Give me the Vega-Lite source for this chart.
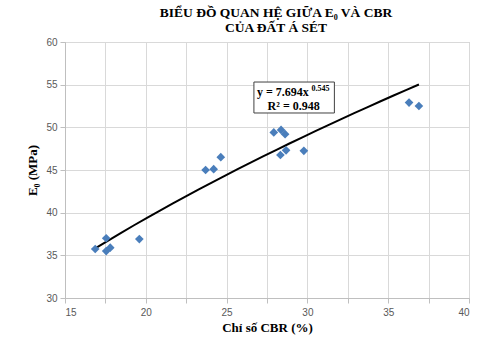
{
  "$schema": "https://vega.github.io/schema/vega-lite/v6.json",
  "width": 404,
  "height": 256,
  "autosize": {"type": "none"},
  "padding": {"left": 65, "top": 42, "right": 15, "bottom": 43},
  "background": "white",
  "title": {
    "text": ["BIỂU ĐỒ QUAN HỆ GIỮA E₀ VÀ CBR", "CỦA ĐẤT Á SÉT"],
    "font": "Liberation Serif",
    "fontSize": 13.5,
    "fontWeight": "bold",
    "color": "#000000",
    "anchor": "middle",
    "frame": "group",
    "lineHeight": 15,
    "offset": 3,
    "dx": 9
  },
  "config": {
    "view": {"stroke": "#bfbfbf", "strokeWidth": 1},
    "axis": {
      "labelFont": "Liberation Sans",
      "labelFontSize": 10,
      "labelColor": "#595959",
      "titleFont": "Liberation Serif",
      "titleFontSize": 13,
      "titleFontWeight": "bold",
      "titleColor": "#000000",
      "domainColor": "#bfbfbf",
      "tickColor": "#bfbfbf",
      "gridColor": "#d9d9d9",
      "tickSize": 5
    }
  },
  "datasets": {
    "samples": [
      {"CBR": 16.87, "E0": 35.74},
      {"CBR": 17.55, "E0": 37.0},
      {"CBR": 17.55, "E0": 35.5},
      {"CBR": 17.8, "E0": 35.9},
      {"CBR": 19.6, "E0": 36.9},
      {"CBR": 23.7, "E0": 45.0},
      {"CBR": 24.2, "E0": 45.1},
      {"CBR": 24.64, "E0": 46.5},
      {"CBR": 27.92, "E0": 49.4},
      {"CBR": 28.37, "E0": 49.7},
      {"CBR": 28.62, "E0": 49.2},
      {"CBR": 28.33, "E0": 46.76},
      {"CBR": 28.68, "E0": 47.3},
      {"CBR": 29.78, "E0": 47.25},
      {"CBR": 36.29, "E0": 52.9},
      {"CBR": 36.9, "E0": 52.5}
    ],
    "fit": [
      {"equation": "y = 7.694x", "power": "0.545", "r2": "R² = 0.948"}
    ]
  },
  "layer": [
    {
      "data": {"name": "samples"},
      "transform": [{"regression": "E0", "on": "CBR", "method": "pow"}],
      "mark": {"type": "line", "color": "#000000", "strokeWidth": 2},
      "encoding": {
        "x": {
          "field": "CBR",
          "type": "quantitative",
          "scale": {"domain": [15, 40], "nice": false, "zero": false},
          "axis": {
            "title": "Chỉ số CBR (%)",
            "values": [15, 17.5, 20, 22.5, 25, 27.5, 30, 32.5, 35, 37.5, 40],
            "labelExpr": "datum.value % 5 === 0 ? datum.label : ''",
            "labelPadding": 4,
            "titlePadding": 4
          }
        },
        "y": {
          "field": "E0",
          "type": "quantitative",
          "scale": {"domain": [30, 60], "nice": false, "zero": false},
          "axis": {
            "title": "E₀ (MPa)",
            "values": [30, 35, 40, 45, 50, 55, 60],
            "labelPadding": 3,
            "titlePadding": 6
          }
        }
      }
    },
    {
      "data": {"name": "samples"},
      "mark": {"type": "point", "shape": "diamond", "filled": true, "size": 75, "color": "#4a7ebb", "opacity": 1},
      "encoding": {
        "x": {"field": "CBR", "type": "quantitative"},
        "y": {"field": "E0", "type": "quantitative"}
      }
    },
    {
      "data": {"name": "fit"},
      "mark": {"type": "rect", "fill": "white", "stroke": "#404040", "strokeWidth": 1},
      "encoding": {
        "x": {"datum": 26.69, "type": "quantitative"},
        "x2": {"datum": 31.67},
        "y": {"datum": 55.31, "type": "quantitative"},
        "y2": {"datum": 51.68}
      }
    },
    {
      "data": {"name": "fit"},
      "mark": {"type": "text", "font": "Liberation Serif", "fontSize": 12, "fontWeight": "bold", "align": "left", "baseline": "alphabetic", "color": "#000000"},
      "encoding": {
        "x": {"datum": 26.88, "type": "quantitative"},
        "y": {"datum": 53.67, "type": "quantitative"},
        "text": {"field": "equation"}
      }
    },
    {
      "data": {"name": "fit"},
      "mark": {"type": "text", "font": "Liberation Serif", "fontSize": 8, "fontWeight": "bold", "align": "left", "baseline": "alphabetic", "color": "#000000"},
      "encoding": {
        "x": {"datum": 30.25, "type": "quantitative"},
        "y": {"datum": 54.3, "type": "quantitative"},
        "text": {"field": "power"}
      }
    },
    {
      "data": {"name": "fit"},
      "mark": {"type": "text", "font": "Liberation Serif", "fontSize": 12, "fontWeight": "bold", "align": "center", "baseline": "alphabetic", "color": "#000000"},
      "encoding": {
        "x": {"datum": 29.15, "type": "quantitative"},
        "y": {"datum": 52.03, "type": "quantitative"},
        "text": {"field": "r2"}
      }
    }
  ]
}
